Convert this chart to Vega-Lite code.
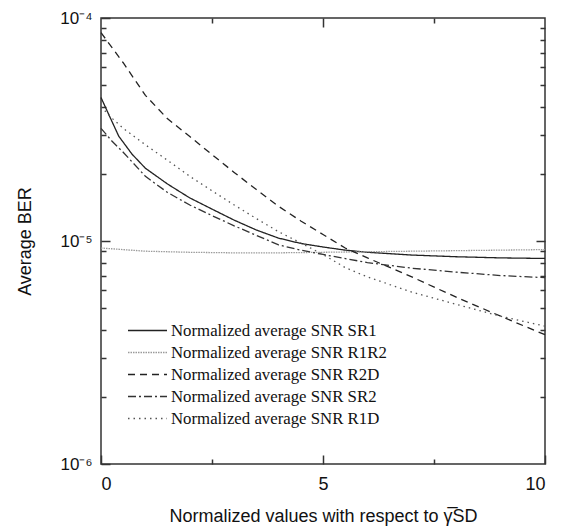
{
  "$schema": "https://vega.github.io/schema/vega-lite/v6.json",
  "width": 444,
  "height": 446,
  "autosize": "none",
  "padding": {"left": 101, "top": 18, "right": 17, "bottom": 66},
  "background": "white",
  "config": {
    "view": {"stroke": "#333", "strokeWidth": 1.5},
    "axis": {"labelFont": "Liberation Sans", "titleFont": "Liberation Sans", "labelColor": "#111", "titleColor": "#111", "domain": false, "grid": false, "tickColor": "#333", "tickWidth": 1.5}
  },
  "data": {
    "values": [
      {"s": "Normalized average SNR SR1", "x": 0, "y": 4.4e-5},
      {"s": "Normalized average SNR SR1", "x": 0.2, "y": 3.6e-5},
      {"s": "Normalized average SNR SR1", "x": 0.4, "y": 2.95e-5},
      {"s": "Normalized average SNR SR1", "x": 0.7, "y": 2.45e-5},
      {"s": "Normalized average SNR SR1", "x": 1, "y": 2.12e-5},
      {"s": "Normalized average SNR SR1", "x": 1.5, "y": 1.8e-5},
      {"s": "Normalized average SNR SR1", "x": 2, "y": 1.56e-5},
      {"s": "Normalized average SNR SR1", "x": 2.5, "y": 1.39e-5},
      {"s": "Normalized average SNR SR1", "x": 3, "y": 1.24e-5},
      {"s": "Normalized average SNR SR1", "x": 3.5, "y": 1.12e-5},
      {"s": "Normalized average SNR SR1", "x": 4, "y": 1.03e-5},
      {"s": "Normalized average SNR SR1", "x": 4.5, "y": 9.75e-6},
      {"s": "Normalized average SNR SR1", "x": 5, "y": 9.4e-6},
      {"s": "Normalized average SNR SR1", "x": 5.5, "y": 9.1e-6},
      {"s": "Normalized average SNR SR1", "x": 6, "y": 8.9e-6},
      {"s": "Normalized average SNR SR1", "x": 7, "y": 8.65e-6},
      {"s": "Normalized average SNR SR1", "x": 8, "y": 8.5e-6},
      {"s": "Normalized average SNR SR1", "x": 9, "y": 8.4e-6},
      {"s": "Normalized average SNR SR1", "x": 10, "y": 8.35e-6},

      {"s": "Normalized average SNR R1R2", "x": 0, "y": 9.3e-6},
      {"s": "Normalized average SNR R1R2", "x": 0.5, "y": 9.15e-6},
      {"s": "Normalized average SNR R1R2", "x": 1, "y": 9.0e-6},
      {"s": "Normalized average SNR R1R2", "x": 2, "y": 8.9e-6},
      {"s": "Normalized average SNR R1R2", "x": 3, "y": 8.85e-6},
      {"s": "Normalized average SNR R1R2", "x": 4, "y": 8.85e-6},
      {"s": "Normalized average SNR R1R2", "x": 5, "y": 8.9e-6},
      {"s": "Normalized average SNR R1R2", "x": 6, "y": 8.95e-6},
      {"s": "Normalized average SNR R1R2", "x": 7, "y": 9.0e-6},
      {"s": "Normalized average SNR R1R2", "x": 8, "y": 9.05e-6},
      {"s": "Normalized average SNR R1R2", "x": 9, "y": 9.1e-6},
      {"s": "Normalized average SNR R1R2", "x": 10, "y": 9.15e-6},

      {"s": "Normalized average SNR R2D", "x": 0, "y": 8.6e-5},
      {"s": "Normalized average SNR R2D", "x": 0.5, "y": 6.3e-5},
      {"s": "Normalized average SNR R2D", "x": 1, "y": 4.5e-5},
      {"s": "Normalized average SNR R2D", "x": 1.5, "y": 3.53e-5},
      {"s": "Normalized average SNR R2D", "x": 2, "y": 2.94e-5},
      {"s": "Normalized average SNR R2D", "x": 2.5, "y": 2.44e-5},
      {"s": "Normalized average SNR R2D", "x": 3, "y": 2.03e-5},
      {"s": "Normalized average SNR R2D", "x": 3.5, "y": 1.7e-5},
      {"s": "Normalized average SNR R2D", "x": 4, "y": 1.43e-5},
      {"s": "Normalized average SNR R2D", "x": 4.5, "y": 1.23e-5},
      {"s": "Normalized average SNR R2D", "x": 5, "y": 1.07e-5},
      {"s": "Normalized average SNR R2D", "x": 5.5, "y": 9.3e-6},
      {"s": "Normalized average SNR R2D", "x": 6, "y": 8.4e-6},
      {"s": "Normalized average SNR R2D", "x": 7, "y": 6.9e-6},
      {"s": "Normalized average SNR R2D", "x": 8, "y": 5.6e-6},
      {"s": "Normalized average SNR R2D", "x": 9, "y": 4.6e-6},
      {"s": "Normalized average SNR R2D", "x": 10, "y": 3.8e-6},

      {"s": "Normalized average SNR SR2", "x": 0, "y": 3.2e-5},
      {"s": "Normalized average SNR SR2", "x": 0.25, "y": 2.8e-5},
      {"s": "Normalized average SNR SR2", "x": 0.5, "y": 2.5e-5},
      {"s": "Normalized average SNR SR2", "x": 1, "y": 1.95e-5},
      {"s": "Normalized average SNR SR2", "x": 1.5, "y": 1.65e-5},
      {"s": "Normalized average SNR SR2", "x": 2, "y": 1.45e-5},
      {"s": "Normalized average SNR SR2", "x": 2.5, "y": 1.3e-5},
      {"s": "Normalized average SNR SR2", "x": 3, "y": 1.17e-5},
      {"s": "Normalized average SNR SR2", "x": 3.5, "y": 1.06e-5},
      {"s": "Normalized average SNR SR2", "x": 4, "y": 9.6e-6},
      {"s": "Normalized average SNR SR2", "x": 4.5, "y": 9.1e-6},
      {"s": "Normalized average SNR SR2", "x": 5, "y": 8.7e-6},
      {"s": "Normalized average SNR SR2", "x": 6, "y": 8.0e-6},
      {"s": "Normalized average SNR SR2", "x": 7, "y": 7.55e-6},
      {"s": "Normalized average SNR SR2", "x": 8, "y": 7.25e-6},
      {"s": "Normalized average SNR SR2", "x": 9, "y": 7.0e-6},
      {"s": "Normalized average SNR SR2", "x": 10, "y": 6.85e-6},

      {"s": "Normalized average SNR R1D", "x": 0, "y": 4.0e-5},
      {"s": "Normalized average SNR R1D", "x": 0.25, "y": 3.55e-5},
      {"s": "Normalized average SNR R1D", "x": 0.5, "y": 3.2e-5},
      {"s": "Normalized average SNR R1D", "x": 1, "y": 2.7e-5},
      {"s": "Normalized average SNR R1D", "x": 1.5, "y": 2.3e-5},
      {"s": "Normalized average SNR R1D", "x": 2, "y": 1.95e-5},
      {"s": "Normalized average SNR R1D", "x": 2.5, "y": 1.68e-5},
      {"s": "Normalized average SNR R1D", "x": 3, "y": 1.45e-5},
      {"s": "Normalized average SNR R1D", "x": 3.5, "y": 1.26e-5},
      {"s": "Normalized average SNR R1D", "x": 4, "y": 1.1e-5},
      {"s": "Normalized average SNR R1D", "x": 4.5, "y": 9.8e-6},
      {"s": "Normalized average SNR R1D", "x": 5, "y": 8.7e-6},
      {"s": "Normalized average SNR R1D", "x": 5.5, "y": 7.6e-6},
      {"s": "Normalized average SNR R1D", "x": 6, "y": 6.9e-6},
      {"s": "Normalized average SNR R1D", "x": 7, "y": 5.9e-6},
      {"s": "Normalized average SNR R1D", "x": 8, "y": 5.2e-6},
      {"s": "Normalized average SNR R1D", "x": 9, "y": 4.6e-6},
      {"s": "Normalized average SNR R1D", "x": 10, "y": 4.15e-6}
    ]
  },
  "resolve": {"axis": {"x": "independent", "y": "independent"}},
  "layer": [
    {
      "mark": {"type": "line", "strokeWidth": 1.3},
      "encoding": {
        "x": {"field": "x", "type": "quantitative",
          "scale": {"domain": [0, 10], "nice": false},
          "axis": {"values": [0, 2.5, 5, 7.5, 10], "labelExpr": "datum.value % 5 == 0 ? datum.label : ''",
            "labelFontSize": 18, "labelPadding": 20, "labelOverlap": false,
            "tickSize": {"condition": {"test": "datum.value % 5 == 0", "value": -9}, "value": -5},
            "title": "Normalized values with respect to γ̅SD", "titleFontSize": 18, "titleFontWeight": "normal",
            "titleY": 52, "titleBaseline": "middle"}},
        "y": {"field": "y", "type": "quantitative",
          "scale": {"type": "log", "domain": [1e-6, 1e-4], "nice": false},
          "axis": {"values": [1e-6, 2e-6, 3e-6, 4e-6, 5e-6, 6e-6, 7e-6, 8e-6, 9e-6, 1e-5, 2e-5, 3e-5, 4e-5, 5e-5, 6e-5, 7e-5, 8e-5, 9e-5, 1e-4],
            "labelExpr": "abs(datum.value-1e-4)<1e-9 ? '10⁻⁴' : abs(datum.value-1e-5)<1e-10 ? '10⁻⁵' : abs(datum.value-1e-6)<1e-11 ? '10⁻⁶' : ''",
            "labelFontSize": 17, "labelPadding": 18, "labelOverlap": false,
            "tickSize": {"condition": {"test": "abs(log(datum.value)/LN10 - round(log(datum.value)/LN10)) < 0.001", "value": -9}, "value": -5},
            "title": "Average BER", "titleFontSize": 18, "titleFontWeight": "normal",
            "titleX": -76, "titleBaseline": "middle"}},
        "color": {"field": "s", "type": "nominal",
          "scale": {"domain": ["Normalized average SNR SR1", "Normalized average SNR R1R2", "Normalized average SNR R2D", "Normalized average SNR SR2", "Normalized average SNR R1D"],
            "range": ["#222222", "#9a9a9a", "#222222", "#333333", "#555555"]},
          "legend": {"title": null, "orient": "none", "legendX": 38, "legendY": 304,
            "labelFont": "Liberation Serif", "labelFontSize": 16.8, "labelColor": "#111", "labelLimit": 400,
            "symbolType": "M-2.6,0H2.6", "symbolSize": 225, "symbolStrokeWidth": 1.3, "rowPadding": 4, "labelOffset": 15}},
        "strokeDash": {"field": "s", "type": "nominal",
          "scale": {"domain": ["Normalized average SNR SR1", "Normalized average SNR R1R2", "Normalized average SNR R2D", "Normalized average SNR SR2", "Normalized average SNR R1D"],
            "range": [[1, 0], [1.5, 1], [7, 5], [8, 3, 2, 3], [1.5, 4]]},
          "legend": null}
      }
    },
    {
      "mark": {"type": "line", "opacity": 0},
      "encoding": {
        "detail": {"field": "s"},
        "x": {"field": "x", "type": "quantitative",
          "axis": {"orient": "top", "values": [2.5, 5, 7.5], "labels": false, "title": null,
            "tickSize": {"condition": {"test": "datum.value % 5 == 0", "value": -9}, "value": -5}}},
        "y": {"field": "y", "type": "quantitative",
          "axis": {"orient": "right", "values": [2e-6, 3e-6, 4e-6, 5e-6, 6e-6, 7e-6, 8e-6, 9e-6, 1e-5, 2e-5, 3e-5, 4e-5, 5e-5, 6e-5, 7e-5, 8e-5, 9e-5], "labels": false, "title": null,
            "tickSize": {"condition": {"test": "abs(log(datum.value)/LN10 - round(log(datum.value)/LN10)) < 0.001", "value": -9}, "value": -5}}}
      }
    }
  ]
}
